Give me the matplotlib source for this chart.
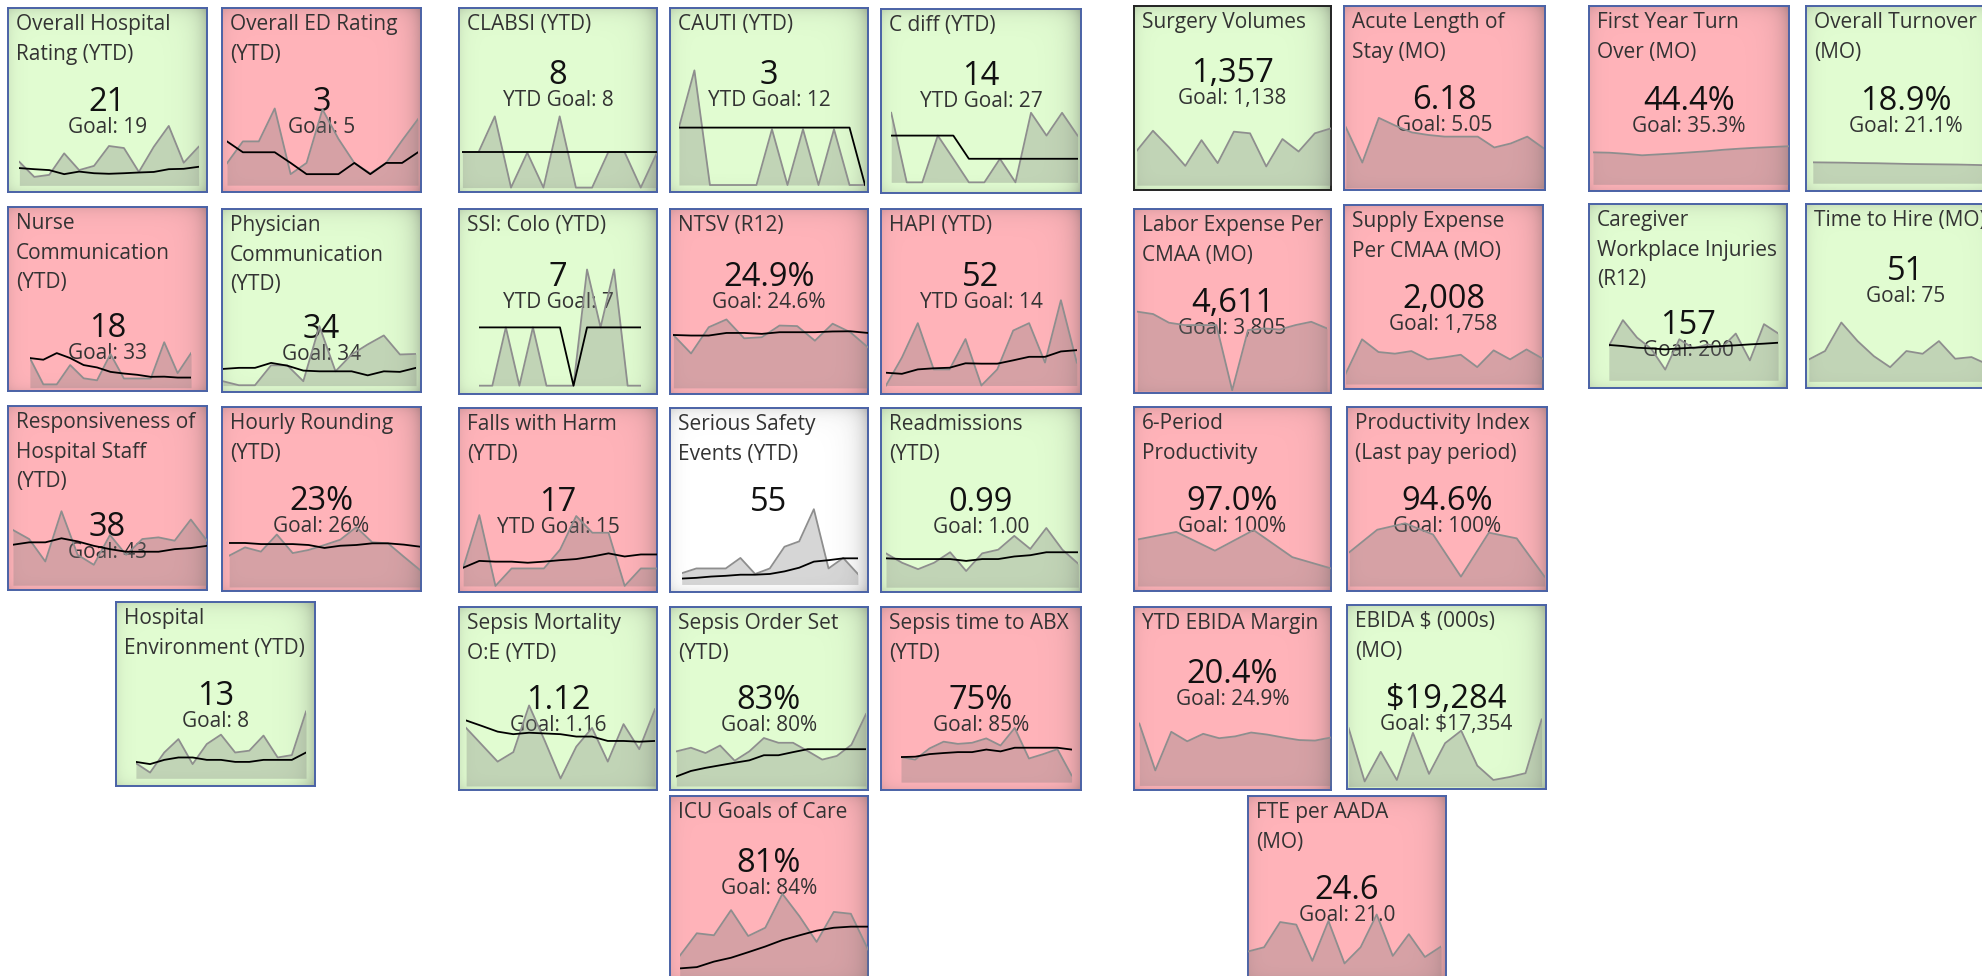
import numpy as np
import matplotlib
matplotlib.use("Agg")
import matplotlib.pyplot as plt

plt.rcParams['font.family'] = ['Open Sans', 'DejaVu Sans']

W, H = 1982, 976
GREEN = '#e1fcd1'
RED = '#ffb3b9'
WHITE = '#ffffff'

# sparkline values, in percent of tile height
ohr_area = [16.4, 8.2, 9.3, 21.0, 11.9, 14.2, 25.0, 23.9, 10.9, 24.6, 35.9, 15.9, 24.6]
ohr_trend = [13.0, 12.4, 11.9, 9.7, 11.1, 10.2, 9.9, 10.2, 10.6, 10.9, 12.4, 12.6, 13.7]
ed_area = [15.6, 27.5, 27.5, 45.4, 9.7, 15.8, 44.9, 28.9, 15.8, 10.1, 15.8, 28.0, 39.6]
ed_trend = [27.5, 21.6, 21.6, 21.6, 15.8, 9.7, 9.7, 9.7, 15.8, 9.7, 15.8, 15.8, 21.6]
clabsi_area = [21.7, 21.7, 41.1, 2.4, 21.4, 2.4, 41.1, 2.4, 2.4, 21.7, 21.7, 2.4, 21.4]
clabsi_trend = [21.7, 21.7, 21.7, 21.7, 21.7, 21.7, 21.7, 21.7, 21.7, 21.7, 21.7, 21.7, 21.7]
cauti_area = [35.0, 66.1, 3.8, 3.8, 3.8, 3.8, 34.1, 3.8, 34.1, 3.8, 34.1, 3.8, 3.8]
cauti_trend = [35.0, 35.0, 35.0, 35.0, 35.0, 35.0, 35.0, 35.0, 35.0, 35.0, 35.0, 35.0, 3.8]
cdiff_area = [43.6, 5.8, 5.8, 31.2, 18.6, 5.8, 5.8, 18.6, 5.8, 43.6, 31.2, 43.6, 31.2]
cdiff_trend = [31.2, 31.2, 31.2, 31.2, 31.2, 18.6, 18.6, 18.6, 18.6, 18.6, 18.6, 18.6, 18.6]
nurse_area = [17.9, 3.6, 3.6, 14.1, 6.9, 5.8, 20.1, 6.8, 6.8, 6.8, 26.5, 9.7, 20.6]
nurse_trend = [17.9, 17.0, 20.6, 17.9, 14.1, 12.8, 10.4, 9.5, 8.8, 7.7, 7.8, 7.3, 7.3]
phys_area = [5.9, 3.7, 3.7, 14.6, 14.6, 5.9, 36.0, 11.3, 20.5, 26.0, 30.9, 20.5, 20.8]
phys_trend = [12.6, 13.2, 13.2, 15.9, 14.4, 11.7, 11.3, 11.3, 11.3, 9.1, 11.3, 11.0, 13.2]
ssi_area = [4.5, 4.5, 36.0, 4.5, 36.0, 4.5, 4.5, 4.5, 67.3, 36.0, 67.3, 4.5, 4.5]
ssi_trend = [36.0, 36.0, 36.0, 36.0, 36.0, 36.0, 36.0, 4.5, 36.0, 36.0, 36.0, 36.0, 36.0]
ntsv_area = [31.9, 21.9, 36.1, 40.3, 30.1, 30.7, 37.0, 36.7, 28.8, 38.0, 33.4, 25.2]
ntsv_trend = [31.9, 31.6, 31.6, 33.0, 33.0, 32.5, 33.4, 33.4, 33.4, 33.8, 33.9, 33.0]
hapi_area = [4.6, 19.7, 38.3, 13.3, 13.3, 29.7, 4.6, 13.3, 34.3, 38.3, 17.0, 50.7, 17.0]
hapi_trend = [11.5, 10.9, 13.3, 13.9, 14.2, 16.6, 16.4, 16.4, 18.2, 20.1, 20.1, 23.0, 23.7]
resp_area = [32.6, 27.7, 15.5, 42.8, 19.1, 13.7, 29.9, 19.1, 27.7, 28.6, 26.8, 38.3, 26.8]
resp_trend = [24.6, 25.9, 25.9, 28.1, 26.4, 24.0, 22.2, 20.8, 20.8, 20.8, 22.2, 22.8, 24.0]
hourly_area = [19.2, 23.7, 21.4, 30.7, 20.6, 22.3, 25.0, 27.9, 34.7, 26.5, 25.9, 18.6, 11.5]
hourly_trend = [26.1, 26.1, 25.5, 25.5, 25.5, 25.0, 23.4, 24.6, 25.0, 25.9, 25.9, 25.2, 24.1]
env_area = [12.4, 7.3, 18.2, 25.5, 11.9, 22.8, 27.9, 18.2, 19.2, 27.4, 15.5, 16.8, 40.5]
env_trend = [13.1, 11.9, 14.2, 15.5, 15.5, 14.2, 14.2, 13.1, 13.1, 14.2, 14.2, 14.2, 18.2]
falls_area = [13.2, 41.8, 3.3, 12.8, 12.8, 12.8, 23.0, 41.3, 32.2, 32.2, 3.3, 12.8, 12.8]
falls_trend = [13.2, 16.9, 16.5, 16.5, 15.9, 16.5, 17.3, 17.9, 19.3, 21.0, 19.3, 20.4, 20.4]
sse_area = [10.2, 12.8, 12.8, 12.8, 18.5, 9.8, 12.8, 24.6, 27.5, 45.0, 12.8, 18.5, 9.8]
sse_trend = [7.3, 7.7, 8.4, 8.8, 9.4, 9.4, 9.8, 11.2, 13.2, 16.5, 17.3, 18.3, 18.3]
readm_area = [21.0, 15.9, 12.4, 15.9, 21.6, 11.4, 21.0, 23.0, 30.5, 23.4, 34.8, 23.0, 15.3]
readm_trend = [18.3, 17.9, 17.9, 17.9, 17.9, 16.9, 17.9, 17.9, 19.3, 20.0, 21.6, 21.6, 21.6]
sepm_area = [33.9, 24.7, 15.5, 20.7, 46.2, 26.8, 6.3, 23.7, 33.9, 15.5, 36.0, 22.3, 44.2]
sepm_trend = [38.0, 35.0, 31.9, 30.5, 31.3, 30.9, 30.5, 29.2, 29.2, 26.8, 26.8, 26.4, 26.8]
sepo_area = [21.1, 23.1, 20.2, 24.3, 16.0, 21.1, 28.4, 25.8, 25.8, 21.3, 16.6, 18.6, 24.7, 41.5]
sepo_trend = [7.4, 10.4, 12.1, 13.5, 14.9, 16.2, 19.0, 19.0, 20.7, 22.3, 22.3, 22.3, 22.3, 22.3]
abx_area = [18.0, 16.6, 22.7, 26.4, 25.2, 25.8, 28.2, 24.3, 33.9, 17.2, 19.6, 22.3, 8.0]
abx_trend = [18.0, 18.2, 19.6, 20.2, 20.7, 20.7, 22.1, 21.1, 23.1, 23.1, 23.1, 23.1, 22.1]
icu_area = [13.1, 25.4, 24.3, 38.0, 23.9, 28.4, 46.8, 34.6, 20.7, 37.0, 36.0, 16.6]
icu_trend = [6.3, 7.0, 10.0, 12.1, 15.1, 18.2, 21.7, 24.3, 26.8, 28.4, 29.0, 29.0]
surg_area = [21.3, 32.2, 23.1, 13.1, 27.1, 14.6, 31.7, 30.8, 12.8, 27.7, 20.9, 30.8, 33.5]
acute_area = [34.1, 14.9, 39.2, 35.0, 31.3, 29.9, 29.0, 29.0, 29.0, 23.1, 25.3, 29.0, 22.6]
fyt_area = [20.9, 20.7, 20.1, 19.3, 19.8, 20.3, 20.9, 21.5, 22.3, 22.9, 23.4, 23.8, 24.2]
ot_area = [15.5, 15.4, 15.3, 15.1, 15.0, 14.8, 14.6, 14.5, 14.4, 14.3, 14.1, 13.9, 13.6]
labor_area = [44.2, 42.9, 38.2, 36.9, 36.9, 36.9, 1.5, 34.2, 35.1, 34.5, 36.9, 38.7, 35.1]
supply_area = [8.2, 27.0, 20.1, 19.2, 20.6, 16.1, 17.2, 18.6, 11.9, 21.0, 16.1, 21.5, 16.4]
care_area = [22.8, 36.9, 27.4, 21.4, 10.0, 26.5, 21.5, 23.7, 21.9, 29.6, 15.0, 34.7, 29.7]
care_trend = [23.4, 22.8, 21.9, 21.5, 21.0, 21.5, 21.9, 22.3, 22.8, 23.2, 23.7, 24.1, 24.6]
hire_area = [15.5, 20.1, 35.6, 25.5, 17.3, 11.3, 20.1, 18.6, 25.5, 15.9, 16.8, 12.8, 15.0]
six_area = [28.0, 32.1, 21.9, 33.1, 18.4, 12.3]
prod_area = [21.1, 33.3, 36.8, 30.7, 7.8, 31.7, 28.6, 7.8]
ebm_area = [36.3, 10.7, 31.8, 26.6, 30.7, 28.3, 29.3, 31.4, 30.3, 28.7, 27.3, 27.0, 28.7]
ebd_area = [33.1, 4.1, 20.2, 4.9, 30.5, 8.2, 24.9, 31.7, 12.7, 4.9, 6.5, 8.6, 37.8]
fte_area = [15.5, 17.8, 31.5, 30.1, 10.4, 32.1, 9.0, 17.8, 35.6, 13.1, 24.9, 12.5, 18.2]

# title, value, goal, status colour, area, trend
tiles = [
    ("Overall Hospital\nRating (YTD)", "21", "Goal: 19", GREEN, ohr_area, ohr_trend),
    ("Overall ED Rating\n(YTD)", "3", "Goal: 5", RED, ed_area, ed_trend),
    ("CLABSI (YTD)", "8", "YTD Goal: 8", GREEN, clabsi_area, clabsi_trend),
    ("CAUTI (YTD)", "3", "YTD Goal: 12", GREEN, cauti_area, cauti_trend),
    ("C diff (YTD)", "14", "YTD Goal: 27", GREEN, cdiff_area, cdiff_trend),
    ("Nurse\nCommunication\n(YTD)", "18", "Goal: 33", RED, nurse_area, nurse_trend),
    ("Physician\nCommunication\n(YTD)", "34", "Goal: 34", GREEN, phys_area, phys_trend),
    ("SSI: Colo (YTD)", "7", "YTD Goal: 7", GREEN, ssi_area, ssi_trend),
    ("NTSV (R12)", "24.9%", "Goal: 24.6%", RED, ntsv_area, ntsv_trend),
    ("HAPI (YTD)", "52", "YTD Goal: 14", RED, hapi_area, hapi_trend),
    ("Responsiveness of\nHospital Staff\n(YTD)", "38", "Goal: 43", RED, resp_area, resp_trend),
    ("Hourly Rounding\n(YTD)", "23%", "Goal: 26%", RED, hourly_area, hourly_trend),
    ("Hospital\nEnvironment (YTD)", "13", "Goal: 8", GREEN, env_area, env_trend),
    ("Falls with Harm\n(YTD)", "17", "YTD Goal: 15", RED, falls_area, falls_trend),
    ("Serious Safety\nEvents (YTD)", "55", "", WHITE, sse_area, sse_trend),
    ("Readmissions\n(YTD)", "0.99", "Goal: 1.00", GREEN, readm_area, readm_trend),
    ("Sepsis Mortality\nO:E (YTD)", "1.12", "Goal: 1.16", GREEN, sepm_area, sepm_trend),
    ("Sepsis Order Set\n(YTD)", "83%", "Goal: 80%", GREEN, sepo_area, sepo_trend),
    ("Sepsis time to ABX\n(YTD)", "75%", "Goal: 85%", RED, abx_area, abx_trend),
    ("ICU Goals of Care", "81%", "Goal: 84%", RED, icu_area, icu_trend),
    ("Surgery Volumes", "1,357", "Goal: 1,138", GREEN, surg_area, None),
    ("Acute Length of\nStay (MO)", "6.18", "Goal: 5.05", RED, acute_area, None),
    ("First Year Turn\nOver (MO)", "44.4%", "Goal: 35.3%", RED, fyt_area, None),
    ("Overall Turnover\n(MO)", "18.9%", "Goal: 21.1%", GREEN, ot_area, None),
    ("Labor Expense Per\nCMAA (MO)", "4,611", "Goal: 3,805", RED, labor_area, None),
    ("Supply Expense\nPer CMAA (MO)", "2,008", "Goal: 1,758", RED, supply_area, None),
    ("Caregiver\nWorkplace Injuries\n(R12)", "157", "Goal: 200", GREEN, care_area, care_trend),
    ("Time to Hire (MO)", "51", "Goal: 75", GREEN, hire_area, None),
    ("6-Period\nProductivity", "97.0%", "Goal: 100%", RED, six_area, None),
    ("Productivity Index\n(Last pay period)", "94.6%", "Goal: 100%", RED, prod_area, None),
    ("YTD EBIDA Margin", "20.4%", "Goal: 24.9%", RED, ebm_area, None),
    ("EBIDA \\$ (000s)\n(MO)", "\\$19,284", "Goal: \\$17,354", GREEN, ebd_area, None),
    ("FTE per AADA\n(MO)", "24.6", "Goal: 21.0", RED, fte_area, None),
]

# layout: tile box in pixels (x0, y0, x1, y1), sparkline span (left, right), area base
layout = [
    ((8, 8, 207, 192), (0.057, 0.958), 3.6),
    ((222, 8, 421, 192), (0.025, 0.985), 3.7),
    ((459, 8, 657, 192), (0.017, 1.0), 2.4),
    ((670, 8, 868, 192), (0.045, 0.985), 3.8),
    ((881, 9, 1081, 193), (0.051, 0.983), 5.8),
    ((8, 207, 207, 391), (0.11, 0.92), 1.8),
    ((222, 209, 421, 392), (0.004, 0.975), 3.5),
    ((459, 209, 657, 394), (0.10, 0.92), 4.5),
    ((670, 209, 868, 394), (0.017, 1.0), 3.3),
    ((881, 209, 1081, 394), (0.025, 0.979), 4.6),
    ((8, 406, 207, 590), (0.025, 1.0), 2.6),
    ((222, 407, 421, 591), (0.036, 0.994), 2.2),
    ((116, 602, 315, 786), (0.10, 0.955), 4.2),
    ((459, 408, 657, 592), (0.021, 1.0), 3.3),
    ((670, 408, 868, 592), (0.059, 0.949), 4.1),
    ((881, 408, 1081, 592), (0.025, 0.987), 2.6),
    ((459, 607, 657, 790), (0.036, 0.99), 2.2),
    ((670, 607, 868, 790), (0.032, 0.99), 2.2),
    ((881, 607, 1081, 790), (0.10, 0.953), 4.3),
    ((670, 796, 868, 980), (0.049, 1.0), 1.5),
    ((1134, 6, 1331, 190), (0.014, 1.0), 2.6),
    ((1344, 6, 1545, 190), (0.009, 0.994), 1.3),
    ((1589, 6, 1789, 191), (0.02, 1.0), 3.6),
    ((1806, 6, 2006, 191), (0.034, 1.0), 4.2),
    ((1134, 209, 1331, 393), (0.017, 0.98), 1.0),
    ((1344, 205, 1543, 389), (0.008, 1.0), 2.7),
    ((1589, 204, 1787, 388), (0.10, 0.955), 4.2),
    ((1806, 204, 2006, 388), (0.014, 0.99), 3.6),
    ((1134, 407, 1331, 591), (0.018, 1.0), 2.7),
    ((1347, 407, 1547, 591), (0.012, 0.988), 2.7),
    ((1134, 607, 1331, 790), (0.027, 1.0), 2.5),
    ((1347, 605, 1546, 789), (0.008, 0.978), 1.4),
    ((1248, 796, 1446, 980), (0.0, 0.975), 1.0),
]


def shade(ax):
    xx, yy = np.meshgrid(np.linspace(0, 1, 200), np.linspace(0, 1, 200))
    a = (0.28 * np.exp(-(1 - xx) / 0.05) + 0.10 * np.exp(-xx / 0.03)
         + 0.14 * np.exp(-(1 - yy) / 0.04) + 0.10 * np.exp(-yy / 0.03))
    img = np.zeros((200, 200, 4))
    img[..., :3] = 0.25
    img[..., 3] = np.clip(a, 0, 0.4)
    ax.imshow(img, extent=[0, 1, 0, 100], aspect='auto', origin='lower', zorder=0.5)


fig = plt.figure(figsize=(W / 100, H / 100), dpi=100)

for (title, value, goal, bg, area, trend), (box, span, base) in zip(tiles, layout):
    x0, y0, x1, y1 = box
    ax = fig.add_axes([x0 / W, 1 - y1 / H, (x1 - x0) / W, (y1 - y0) / H])
    ax.set_xlim(0, 1)
    ax.set_ylim(0, 100)
    ax.set_xticks([])
    ax.set_yticks([])
    ax.set_facecolor(bg)
    edge = '#222222' if title == "Surgery Volumes" else '#4a62a6'
    for s in ax.spines.values():
        s.set_color(edge)
        s.set_linewidth(1.4)
    shade(ax)

    nlines = title.count("\n") + 1
    vy = {1: 58.5, 2: 44.0, 3: 29.5}[nlines]
    ax.text(0.04, 96.5, title, ha='left', va='top', fontsize=15, color='#333333',
            linespacing=1.53)
    ax.text(0.5, vy, value, ha='center', va='baseline', fontsize=23.5, color='#111111')
    if goal:
        ax.text(0.5, vy - 12.0, goal, ha='center', va='baseline', fontsize=15,
                color='#333333')

    n = len(area)
    sp = ax.inset_axes([span[0], 0, span[1] - span[0], 1])
    sp.set_xlim(0, n - 1)
    sp.set_ylim(0, 100)
    sp.axis('off')
    x = np.arange(n)
    sp.fill_between(x, base, area, color='#7a7a7a', alpha=0.3, lw=0)
    sp.plot(x, area, color='#8e8e8e', lw=1.3)
    if trend is not None:
        sp.plot(x, trend, color='black', lw=1.3)

fig.savefig("out.png", dpi=100, facecolor='white')
